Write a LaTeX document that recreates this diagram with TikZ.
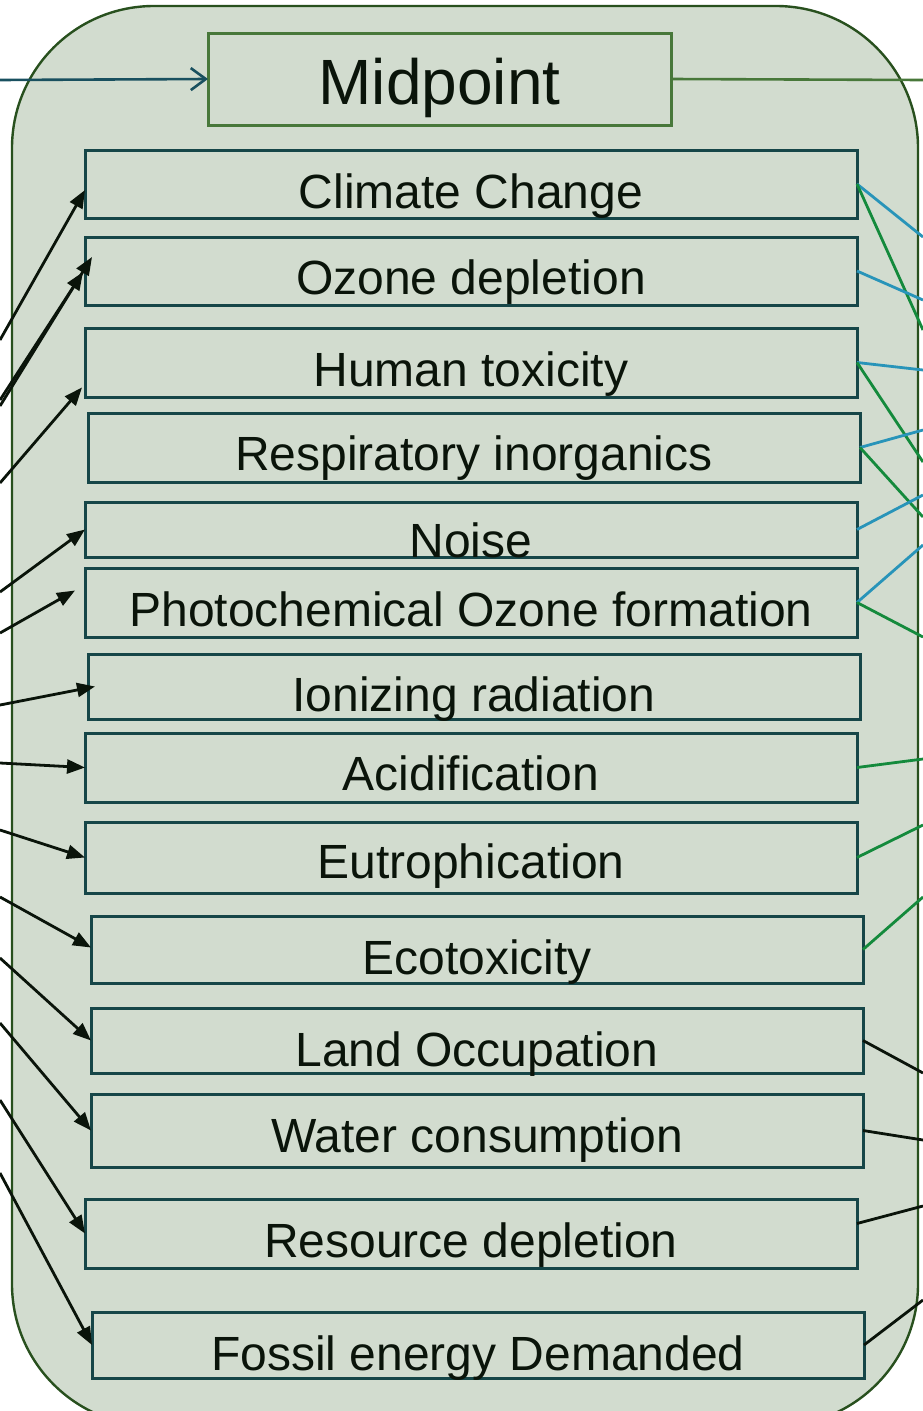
\documentclass[tikz,border=0pt]{standalone}
\usepackage{fontspec}
\setmainfont{Liberation Sans}
\definecolor{panelFill}{RGB}{210, 220, 207}
\definecolor{panelLine}{RGB}{40, 80, 30}
\definecolor{boxTeal}{RGB}{22, 70, 72}
\definecolor{midGreen}{RGB}{72, 120, 58}
\definecolor{linkBlue}{RGB}{40, 148, 185}
\definecolor{linkGreen}{RGB}{20, 138, 60}
\definecolor{feedTeal}{RGB}{25, 80, 95}
\definecolor{inkBlack}{RGB}{10, 20, 10}
\usetikzlibrary{arrows.meta}

\begin{document}
\begin{tikzpicture}[
      x=1pt, y=-1pt,
      panel/.style={draw=panelLine, fill=panelFill, line width=2.4pt, rounded corners=142pt},
      category/.style={
        rectangle, draw=boxTeal, line width=3pt, inner sep=0pt, outer sep=0pt,
        minimum width=772pt, anchor=south, text=inkBlack,
        font=\fontsize{48}{56}\selectfont
      },
      heading/.style={category, draw=midGreen, minimum width=463pt,
        font=\fontsize{64}{72}\selectfont},
      feed/.style={-{Triangle[length=18pt, width=14pt]}, inkBlack, line width=2.8pt},
      intake/.style={-{Straight Barb[length=15pt, width=22pt]}, feedTeal, line width=2.6pt},
      blueLink/.style={linkBlue, line width=2.8pt},
      greenLink/.style={linkGreen, line width=2.8pt},
      blackLink/.style={inkBlack, line width=2.8pt},
    ]
      \useasboundingbox (0,0) rectangle (923,1411);
      \draw[panel] (12,6) rectangle (918,1426);

      \node[heading, text height=71pt, text depth=21pt] (mid) at (439.5,125) {Midpoint};

      \node[category, text height=58pt, text depth=10pt] (cc)     at (471,218)  {Climate Change};
      \node[category, text height=57pt, text depth=11pt] (oz)     at (471,305)  {Ozone depletion};
      \node[category, text height=58pt, text depth=11pt] (ht)     at (471,397)  {Human toxicity};
      \node[category, text height=57pt, text depth=12pt] (ri)     at (474,482)  {Respiratory inorganics};
      \node[category, text height=55pt, text depth=0pt]  (noise)  at (471,557)  {Noise};
      \node[category, text height=58pt, text depth=11pt] (photo)  at (471,637)  {Photochemical Ozone formation};
      \node[category, text height=57pt, text depth=8pt]  (ion)    at (474,719)  {Ionizing radiation};
      \node[category, text height=57pt, text depth=12pt] (acid)   at (471,802)  {Acidification};
      \node[category, text height=56pt, text depth=15pt] (eutro)  at (471,893)  {Eutrophication};
      \node[category, text height=58pt, text depth=9pt]  (eco)    at (477,983)  {Ecotoxicity};
      \node[category, text height=58pt, text depth=7pt]  (land)   at (477,1073) {Land Occupation};
      \node[category, text height=58pt, text depth=15pt] (water)  at (477,1167) {Water consumption};
      \node[category, text height=58pt, text depth=11pt] (res)    at (471,1268) {Resource depletion};
      \node[category, text height=58pt, text depth=8pt]  (fossil) at (478,1378) {Fossil energy Demanded};

      % inventory flows coming in from the left
      \coordinate (mid-src) at (0,80);
      \coordinate (mid-out) at (923,80);
      \draw[intake] (mid-src) -- (mid.west);
      \draw[midGreen, line width=2.6pt] (mid.east) -- (mid-out);

      \foreach \n/\y/\dx/\dy [count=\i] in {cc/340/0/-6, oz/400/-2/-1, oz/406/7/14,
          ht/483/-3/-25, noise/592/0/0, photo/633/-10/12, ion/705/7/0, acid/763/0/0,
          eutro/830/0/0, eco/897/0/2, land/958/0/0, water/1023/0/0, res/1100/0/0,
          fossil/1173/0/0} {
        \coordinate (src-\i) at (0,\y);
        \draw[feed] (src-\i) -- ([xshift=\dx pt, yshift=\dy pt]\n.west);
      }

      % links out to the damage side
      \foreach \n/\y/\dy/\s [count=\i] in {cc/237/0/blueLink, cc/330/0/greenLink,
          oz/300/0/blueLink, ht/370/0/blueLink, ht/462/0/greenLink, ri/430/0/blueLink,
          ri/517/0/greenLink, noise/495/0/blueLink, photo/545/0/blueLink,
          photo/637/0/greenLink, acid/759/0/greenLink, eutro/825/0/greenLink,
          eco/897/0/greenLink, land/1073/0/blackLink, water/1140/0/blackLink,
          res/1206/10/blackLink, fossil/1300/0/blackLink} {
        \coordinate (sink-\i) at (923,\y);
        \draw[\s] ([yshift=\dy pt]\n.east) -- (sink-\i);
      }
    \end{tikzpicture}
\end{document}
